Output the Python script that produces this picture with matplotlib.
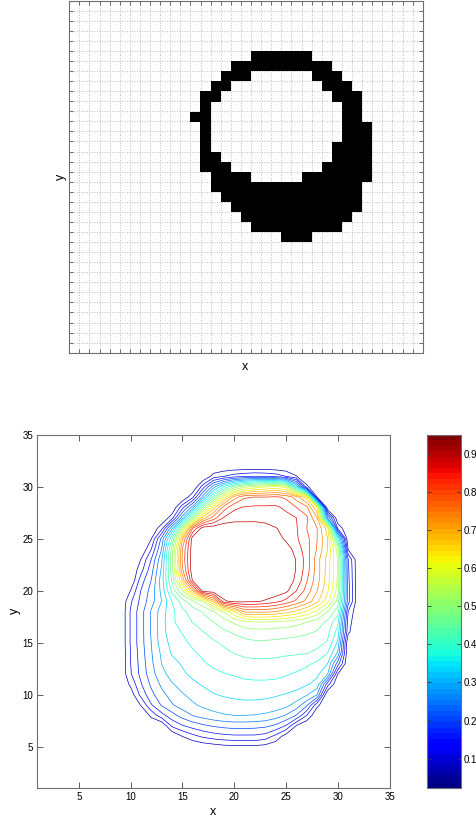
import numpy as np
import matplotlib
matplotlib.use("Agg")
import matplotlib.pyplot as plt
from matplotlib.colors import Normalize, ListedColormap
from matplotlib.cm import ScalarMappable

plt.rcParams['font.family'] = ['Liberation Sans', 'DejaVu Sans']

# ---------------------------------------------------------------- data
# Binary ring image (35 x 35): filled column spans for each image row (row 0 at top)
ring_spans = {
    5: [(18, 23)],
    6: [(16, 25)],
    7: [(15, 17), (24, 26)],
    8: [(14, 15), (25, 27)],
    9: [(13, 14), (26, 28)],
    10: [(13, 13), (27, 28)],
    11: [(12, 13), (27, 28)],
    12: [(13, 13), (27, 29)],
    13: [(13, 13), (27, 29)],
    14: [(13, 13), (26, 29)],
    15: [(13, 14), (26, 29)],
    16: [(13, 15), (25, 29)],
    17: [(14, 17), (23, 29)],
    18: [(14, 28)],
    19: [(15, 28)],
    20: [(16, 28)],
    21: [(17, 27)],
    22: [(18, 26)],
    23: [(21, 23)],
}

# Field on the integer grid x, y = 1..35, in percent.
# Each entry: y -> (first x, values for consecutive x); the rest is the floor value.
field_floor = 2.2
field_rows = {
    31: (18, [8.4, 11.0, 13.3, 14.6, 15.5, 15.0, 13.7, 11.0, 6.85]),
    30: (17, [13.3, 26.5, 37.7, 47.8, 53.5, 56.6, 58.8, 60.6, 57.5, 33.3, 7.7]),
    29: (16, [10.2, 26.5, 44.2, 61.9, 75.2, 81.2, 81.9, 81.9, 82.7, 80.9, 75.2, 66.4, 6.2]),
    28: (15, [14.1, 26.5, 48.7, 66.4, 79.6, 85.4, 86.7, 87.1, 87.1, 87.1, 85.4, 81.9, 78.7, 64.2]),
    27: (14, [9.3, 26.5, 48.7, 70.8, 79.6, 86.7, 88.5, 89.1, 89.4, 88.9, 88.5, 87.6, 86.3, 82.7, 73.0, 24.4]),
    26: (13, [9.7, 27.9, 53.1, 81.9, 93.3, 93.8, 94.2, 94.2, 93.3, 92.9, 92.5, 90.9, 89.4, 86.7, 81.9, 77.5, 66.4, 10.2]),
    25: (12, [6.4, 21.2, 41.9, 72.1, 93.3, 94.7, 95.1, 95.1, 95.1, 95.1, 94.7, 94.2, 92.9, 89.8, 86.9, 83.2, 77.5, 68.7, 37.7]),
    24: (12, [11.0, 24.4, 48.7, 77.5, 93.8, 94.7, 95.1, 95.1, 95.1, 95.1, 94.7, 94.2, 93.8, 92.9, 88.9, 83.6, 77.0, 68.7, 53.1, 6.2]),
    23: (11, [6.7, 15.6, 27.9, 50.0, 78.3, 94.2, 95.1, 95.1, 95.1, 95.1, 95.1, 95.1, 94.7, 94.7, 94.2, 90.4, 84.5, 75.0, 67.0, 54.8, 15.6]),
    22: (11, [9.3, 18.1, 29.6, 49.1, 76.5, 94.2, 95.1, 95.1, 95.1, 95.1, 95.1, 95.1, 94.7, 94.7, 94.2, 90.4, 84.0, 75.2, 66.8, 54.8, 16.4]),
    21: (11, [13.3, 20.0, 31.0, 47.3, 69.9, 91.6, 94.2, 94.7, 95.1, 95.1, 95.1, 95.1, 94.7, 94.2, 93.3, 89.8, 82.3, 74.8, 66.4, 54.4, 16.8]),
    20: (10, [6.7, 15.6, 21.7, 30.1, 43.3, 55.4, 73.1, 93.3, 94.2, 94.7, 94.7, 94.7, 94.7, 94.2, 93.8, 92.0, 86.4, 80.1, 73.1, 65.0, 53.1, 17.7]),
    19: (10, [10.2, 16.8, 22.5, 28.8, 37.7, 44.2, 50.4, 55.4, 70.8, 89.8, 92.5, 92.0, 91.6, 90.2, 88.0, 84.9, 80.9, 76.1, 69.9, 61.9, 48.7, 17.7]),
    18: (10, [11.5, 18.1, 24.8, 31.0, 36.3, 41.1, 43.8, 46.9, 50.4, 55.7, 64.2, 73.9, 74.3, 74.3, 73.1, 70.8, 67.7, 63.7, 58.4, 51.0, 44.2, 11.0]),
    17: (10, [11.5, 18.1, 24.8, 31.4, 36.7, 39.8, 42.2, 44.7, 46.5, 48.7, 51.7, 54.4, 55.4, 55.4, 54.8, 54.0, 52.6, 51.0, 48.7, 45.6, 38.5, 8.8]),
    16: (10, [11.5, 18.1, 24.8, 31.4, 35.8, 37.8, 39.8, 41.8, 43.6, 45.6, 46.9, 48.2, 48.7, 48.7, 48.4, 48.2, 47.8, 47.1, 46.0, 43.3, 35.8, 7.5]),
    15: (10, [11.5, 18.1, 24.4, 31.0, 34.5, 36.5, 38.5, 40.0, 41.4, 42.7, 44.2, 45.3, 45.8, 45.8, 45.6, 45.1, 44.7, 44.2, 43.3, 41.6, 32.3]),
    14: (10, [11.0, 17.7, 23.9, 29.6, 33.6, 35.4, 36.9, 38.5, 39.8, 41.1, 42.1, 42.9, 43.3, 43.3, 43.1, 42.7, 42.5, 42.2, 41.1, 37.7, 27.9]),
    13: (10, [11.0, 17.2, 23.4, 28.8, 31.8, 33.6, 35.4, 37.1, 38.5, 39.4, 40.2, 40.7, 40.9, 40.9, 40.7, 40.2, 39.6, 38.5, 36.7, 33.3, 17.7]),
    12: (10, [10.6, 16.8, 22.5, 27.4, 30.5, 32.5, 34.1, 35.4, 36.5, 37.4, 38.0, 38.7, 38.9, 38.9, 38.7, 38.0, 37.1, 35.8, 34.1, 29.6, 6.7]),
    11: (10, [7.5, 15.0, 20.8, 25.2, 28.3, 30.5, 32.3, 33.6, 34.7, 35.4, 36.0, 36.5, 36.7, 36.7, 36.5, 35.8, 34.9, 33.6, 31.8, 13.3]),
    10: (10, [4.0, 12.4, 18.6, 23.0, 26.1, 28.3, 30.1, 31.6, 32.9, 33.6, 34.1, 34.3, 34.3, 34.1, 33.6, 32.9, 31.8, 29.2, 24.4]),
    9: (11, [6.85, 15.0, 20.3, 23.9, 26.3, 28.1, 29.6, 30.7, 31.4, 31.8, 32.1, 32.1, 31.8, 31.4, 30.1, 27.0, 20.8, 7.95]),
    8: (12, [7.7, 13.7, 18.1, 21.7, 24.4, 26.1, 27.4, 28.3, 28.7, 28.7, 28.5, 27.9, 26.5, 23.9, 19.5, 11.0]),
    7: (14, [11.9, 15.0, 17.2, 19.0, 20.3, 21.2, 21.7, 21.7, 21.4, 20.8, 19.0, 15.0, 6.2]),
    6: (15, [6.7, 9.7, 11.9, 13.3, 14.1, 14.6, 14.6, 14.6, 13.7, 9.7, 4.4]),
    5: (17, [3.5, 4.4, 5.3, 5.7, 5.7, 5.7, 4.9, 3.5]),
}

contour_levels = [0.0662, 0.1105, 0.1547, 0.1990, 0.2432, 0.2874, 0.3317,
                  0.3759, 0.4202, 0.4644, 0.5086, 0.5529, 0.5971, 0.6414,
                  0.6856, 0.7298, 0.7741, 0.8183, 0.8626, 0.9068]
color_range = (0.022, 0.951)
cbar_ticks = [0.1, 0.2, 0.3, 0.4, 0.5, 0.6, 0.7, 0.8, 0.9]
axis_ticks = [5, 10, 15, 20, 25, 30, 35]

# ---------------------------------------------------------------- arrays
n = 35
mask = np.zeros((n, n), dtype=bool)
for r, spans in ring_spans.items():
    for c0, c1 in spans:
        mask[r, c0:c1 + 1] = True

Z = np.full((n, n), field_floor)
for y, (x0, vals) in field_rows.items():
    Z[y - 1, x0 - 1:x0 - 1 + len(vals)] = vals
Z = Z / 100.0
gx = np.arange(1, n + 1)
X, Y = np.meshgrid(gx, gx)

W, H = 477, 822
fig = plt.figure(figsize=(W / 100, H / 100), dpi=100)


def px_axes(left, top, right, bottom):
    return fig.add_axes([left / W, 1 - bottom / H, (right - left) / W, (bottom - top) / H])


frame_col = '#6e6e6e'

# ---------------------------------------------------------------- top: binary image
ax1 = px_axes(69.3, 0.7, 422.7, 352.7)
img = np.ma.masked_where(~mask, np.ones((n, n)))
ax1.imshow(img, cmap=ListedColormap(['black']), vmin=0, vmax=1,
           extent=(0.5, n + 0.5, n + 0.5, 0.5), interpolation='nearest',
           aspect='auto', zorder=2)
edges = np.arange(0.5, n + 1)
ax1.set_xticks(edges)
ax1.set_yticks(edges)
ax1.set_xticklabels([])
ax1.set_yticklabels([])
ax1.set_xlim(0.5, n + 0.5)
ax1.set_ylim(n + 0.5, 0.5)
ax1.set_axisbelow(True)
ax1.grid(True, color='#a8a8a8', linestyle=(0, (1, 2)), linewidth=0.6)
ax1.tick_params(direction='in', length=3, width=0.6, color='#555555',
                top=True, right=True)
for s in ax1.spines.values():
    s.set_color(frame_col)
    s.set_linewidth(0.8)
fig.text(245 / W, 1 - 367 / H, 'x', ha='center', va='center', fontsize=9)
fig.text(61 / W, 1 - 177 / H, 'y', ha='center', va='center', fontsize=9, rotation=90)

# ---------------------------------------------------------------- bottom: contour map
cmap = plt.get_cmap('jet', 64)
norm = Normalize(*color_range)

ax2 = px_axes(37.3, 434.7, 389.6, 788.3)
ax2.contour(X, Y, Z, levels=contour_levels, cmap=cmap, norm=norm, linewidths=0.5)
ax2.set_xlim(1, 35)
ax2.set_ylim(1, 35)
ax2.set_xticks(axis_ticks)
ax2.set_yticks(axis_ticks)
ax2.tick_params(direction='in', length=4, width=0.6, color='#444444',
                top=True, right=True, labelsize=7, pad=3)
for s in ax2.spines.values():
    s.set_color(frame_col)
    s.set_linewidth(0.8)
fig.text(213 / W, 1 - 812 / H, 'x', ha='center', va='center', fontsize=9)
fig.text(15 / W, 1 - 611 / H, 'y', ha='center', va='center', fontsize=9, rotation=90)

# ---------------------------------------------------------------- colorbar
cax = px_axes(427.3, 434.7, 461.0, 788.3)
cb = fig.colorbar(ScalarMappable(norm=norm, cmap=cmap), cax=cax)
cb.set_ticks(cbar_ticks)
cb.set_ticklabels([f'{t:.1f}' for t in cbar_ticks])
cax.tick_params(direction='in', length=3, width=0.6, color='#333333',
                left=True, right=True, labelsize=7, pad=2)
cb.outline.set_edgecolor(frame_col)
cb.outline.set_linewidth(0.8)

fig.savefig('out.png', dpi=100)
